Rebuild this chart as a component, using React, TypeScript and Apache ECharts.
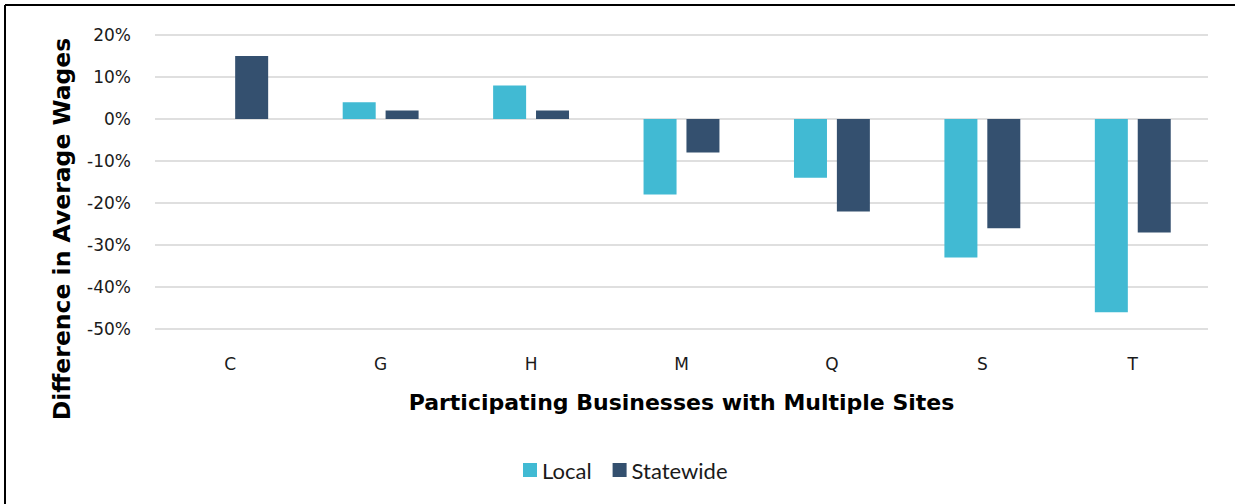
import React, { useEffect, useRef } from "react";
import * as echarts from "echarts";

const categories = ["C", "G", "H", "M", "Q", "S", "T"];
const localValues: (number | null)[] = [null, 4, 8, -18, -14, -33, -46];
const statewideValues: (number | null)[] = [15, 2, 2, -8, -22, -26, -27];
const yMin = -50;
const yMax = 20;
const yInterval = 10;
const xTitle = "Participating Businesses with Multiple Sites";
const yTitle = "Difference in Average Wages";

export default function App() {
  const ref = useRef<HTMLDivElement>(null);
  useEffect(() => {
    if (!ref.current) return;
    const chart = echarts.init(ref.current, undefined, { renderer: "svg" });
    chart.setOption({
      animation: false,
      backgroundColor: "#ffffff",
      grid: { left: 155, right: 27, top: 35, bottom: 175, containLabel: false },
      legend: {
        data: ["Local", "Statewide"],
        top: 454,
        left: 518,
        itemWidth: 14,
        itemHeight: 14,
        itemGap: 21,
        icon: "rect",
        textStyle: { fontFamily: "Lato", fontSize: 22, color: "#1a1a1a" },
      },
      xAxis: {
        type: "category",
        data: categories,
        axisLine: { show: false },
        axisTick: { show: false },
        axisLabel: { fontFamily: "DejaVu Sans", fontSize: 17, color: "#1a1a1a", margin: 26 },
        name: xTitle,
        nameLocation: "middle",
        nameGap: 62,
        nameTextStyle: { fontFamily: "DejaVu Sans", fontWeight: "bold", fontSize: 22, color: "#000" },
      },
      yAxis: {
        type: "value",
        min: yMin,
        max: yMax,
        interval: yInterval,
        axisLine: { show: false },
        axisTick: { show: false },
        axisLabel: {
          fontFamily: "DejaVu Sans",
          fontSize: 17,
          color: "#1a1a1a",
          margin: 24,
          formatter: (v: number) => `${v}%`,
        },
        splitLine: { lineStyle: { color: "#d4d4d4", width: 1.5 } },
      },
      series: [
        {
          name: "Local",
          type: "bar",
          data: localValues,
          barWidth: 33,
          barGap: "30%",
          itemStyle: { color: "#41BAD3" },
        },
        {
          name: "Statewide",
          type: "bar",
          data: statewideValues,
          barWidth: 33,
          barGap: "30%",
          itemStyle: { color: "#34506F" },
        },
      ],
      graphic: [
        {
          type: "text",
          x: 62,
          y: 229,
          rotation: Math.PI / 2,
          style: {
            text: yTitle,
            fontFamily: "DejaVu Sans",
            fontWeight: "bold",
            fontSize: 23.5,
            fill: "#000",
            textAlign: "center",
            textVerticalAlign: "middle",
          },
        },
        {
          type: "line",
          shape: { x1: 5, y1: 5, x2: 1235, y2: 5 },
          style: { stroke: "#000", lineWidth: 2 },
        },
        {
          type: "line",
          shape: { x1: 5, y1: 5, x2: 5, y2: 504 },
          style: { stroke: "#000", lineWidth: 2 },
        },
      ],
    });
    return () => chart.dispose();
  }, []);
  return (
    <div
      ref={ref}
      style={{ position: "absolute", left: 0, top: 0, width: 1235, height: 504 }}
    />
  );
}
